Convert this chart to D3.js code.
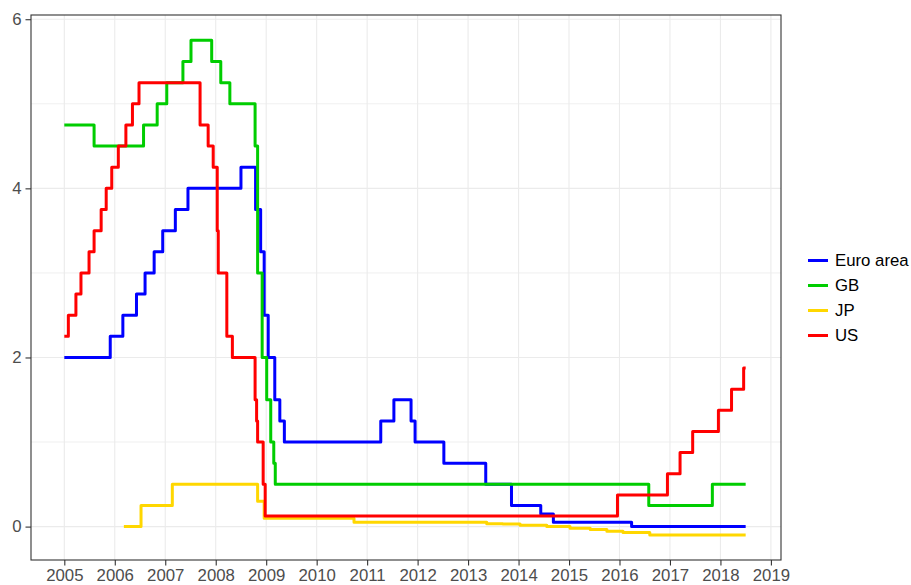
<!DOCTYPE html>
<html>
<head>
<meta charset="utf-8">
<script src="https://cdn.jsdelivr.net/npm/d3@7"></script>
<style>
  body { margin: 0; background: #fff; }
  svg { font-family: "Liberation Sans", Arial, sans-serif; }
</style>
</head>
<body>
<div id="chart"></div>
<script>
// policy rates, stepped: date of change (decimal year) and new rate
var seriesNames = ["Euro area", "GB", "JP", "US"];
var palate = ["#0000ff", "#00cd00", "#ffd700", "#ff0000"];

var euroDates = [2005.00, 2005.91, 2006.16, 2006.43, 2006.60, 2006.78, 2006.95, 2007.20, 2007.45,
  2008.50, 2008.79, 2008.89, 2008.96, 2009.04, 2009.17, 2009.27, 2009.36,
  2011.27, 2011.53, 2011.87, 2011.95, 2012.52, 2013.35, 2013.86, 2014.44, 2014.69, 2016.24, 2018.50];
var euroRates = [2.00, 2.25, 2.50, 2.75, 3.00, 3.25, 3.50, 3.75, 4.00,
  4.25, 3.75, 3.25, 2.50, 2.00, 1.50, 1.25, 1.00,
  1.25, 1.50, 1.25, 1.00, 0.75, 0.50, 0.25, 0.15, 0.05, 0.00, 0.00];

var gbDates = [2005.00, 2005.59, 2006.57, 2006.84, 2007.03, 2007.35, 2007.51, 2007.92, 2008.10, 2008.28,
  2008.78, 2008.83, 2008.92, 2009.01, 2009.09, 2009.15, 2009.18, 2016.58, 2017.84, 2018.50];
var gbRates = [4.75, 4.50, 4.75, 5.00, 5.25, 5.50, 5.75, 5.50, 5.25, 5.00,
  4.50, 3.00, 2.00, 1.50, 1.00, 0.75, 0.50, 0.25, 0.50, 0.50];

var jpDates = [2006.18, 2006.52, 2007.14, 2008.83, 2008.96, 2010.74, 2013.37, 2013.69, 2014.03,
  2014.56, 2015.02, 2015.42, 2015.75, 2016.07, 2016.60, 2018.50];
var jpRates = [0.00, 0.25, 0.50, 0.30, 0.10, 0.05, 0.035, 0.03, 0.015,
  0.00, -0.02, -0.035, -0.055, -0.07, -0.10, -0.10];

var usDates = [2005.00, 2005.08, 2005.23, 2005.33, 2005.49, 2005.59, 2005.73, 2005.83, 2005.94,
  2006.07, 2006.22, 2006.35, 2006.48, 2007.69, 2007.85, 2007.95, 2008.03, 2008.05, 2008.22, 2008.33,
  2008.78, 2008.81, 2008.83, 2008.94, 2008.98, 2015.96, 2016.95, 2017.20, 2017.45, 2017.96,
  2018.22, 2018.46, 2018.50];
var usRates = [2.25, 2.50, 2.75, 3.00, 3.25, 3.50, 3.75, 4.00, 4.25,
  4.50, 4.75, 5.00, 5.25, 4.75, 4.50, 4.25, 3.50, 3.00, 2.25, 2.00,
  1.50, 1.25, 1.00, 0.50, 0.125, 0.375, 0.625, 0.875, 1.125, 1.375,
  1.625, 1.875, 1.875];

var xTicks = d3.range(2005, 2020);
var yTicks = [0, 2, 4, 6];
var yGrid = [0, 1, 2, 3, 4, 5, 6];

var allDates = [euroDates, gbDates, jpDates, usDates];
var allRates = [euroRates, gbRates, jpRates, usRates];

// canvas
var margin = {left: 31, right: 130, top: 15, bottom: 25};
var width = 911 - margin.left - margin.right,
  height = 585 - margin.top - margin.bottom;

var svg = d3.select("#chart")
  .append("svg")
    .attr("width", 911)
    .attr("height", 585);
var canvas = svg.append("g")
  .attr("transform", "translate(" + margin.left + "," + margin.top + ")");

// scales (ggplot-style 5% padding already in the domains)
var x = d3.scaleLinear().domain([2004.34, 2019.2]).range([0, width]);
var y = d3.scaleLinear().domain([-0.395, 6.05]).range([height, 0]);

// grid
canvas.selectAll(".hgrid").data(yGrid).enter().append("line")
  .attr("x1", 0).attr("x2", width)
  .attr("y1", function(d){ return y(d) }).attr("y2", function(d){ return y(d) })
  .attr("stroke", "#ebebeb")
  .attr("stroke-width", function(d){ return d % 2 == 0 ? 1.1 : 0.8 });
canvas.selectAll(".vgrid").data(xTicks).enter().append("line")
  .attr("y1", 0).attr("y2", height)
  .attr("x1", function(d){ return x(d) }).attr("x2", function(d){ return x(d) })
  .attr("stroke", "#ebebeb")
  .attr("stroke-width", 1.1);

// lines
var line = d3.line()
  .x(function(d){ return x(d[0]) })
  .y(function(d){ return y(d[1]) })
  .curve(d3.curveStepAfter);

seriesNames.forEach(function(name, i){
  var pts = allDates[i].map(function(d, j){ return [d, allRates[i][j]] });
  canvas.append("path")
    .datum(pts)
    .attr("fill", "none")
    .attr("stroke", palate[i])
    .attr("stroke-width", 3)
    .attr("stroke-linejoin", "round")
    .attr("d", line);
});

// border
canvas.append("rect")
  .attr("width", width).attr("height", height)
  .attr("fill", "none")
  .attr("stroke", "#333333")
  .attr("stroke-width", 1.1);

// axes
var xAxisCall = d3.axisBottom(x).tickValues(xTicks).tickFormat(d3.format("d"))
  .tickSizeInner(5.5).tickSizeOuter(0).tickPadding(4);
var xAxis = canvas.append("g")
  .attr("transform", "translate(0," + height + ")")
  .call(xAxisCall);

var yAxisCall = d3.axisLeft(y).tickValues(yTicks).tickFormat(d3.format("d"))
  .tickSizeInner(5.5).tickSizeOuter(0).tickPadding(4);
var yAxis = canvas.append("g").call(yAxisCall);

[xAxis, yAxis].forEach(function(a){
  a.select(".domain").remove();
  a.selectAll(".tick line").attr("stroke", "#333333").attr("stroke-width", 1.1);
  a.selectAll(".tick text")
    .attr("fill", "#4d4d4d")
    .style("font-size", "16.8px")
    .style("font-family", "'Liberation Sans', Arial, sans-serif");
});

// legend
var legend = svg.append("g")
  .attr("transform", "translate(808,260.5)");

seriesNames.forEach(function(name, i){
  var legendRow = legend.append("g")
    .attr("transform", "translate(0," + (i * 25) + ")");
  legendRow.append("line")
    .attr("x1", 0).attr("x2", 20)
    .attr("stroke", palate[i])
    .attr("stroke-width", 3);
  legendRow.append("text")
    .attr("x", 27)
    .attr("dy", "0.35em")
    .style("font-size", "16.8px")
    .attr("fill", "#000")
    .text(name);
});
</script>
</body>
</html>
